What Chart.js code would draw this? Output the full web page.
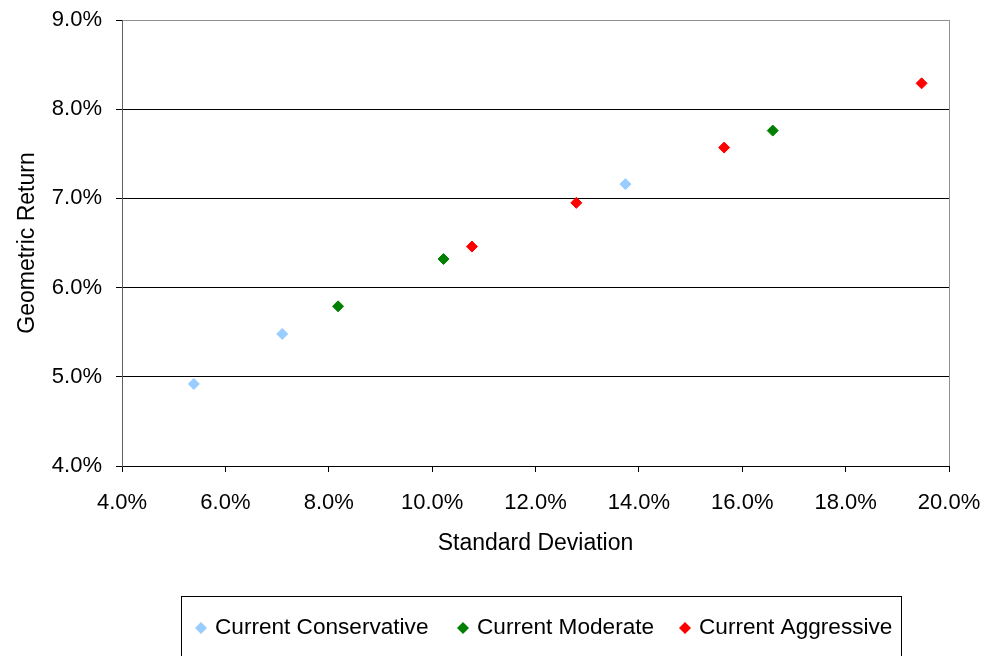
<!DOCTYPE html>
<html>
<head>
<meta charset="utf-8">
<script src="https://cdn.jsdelivr.net/npm/chart.js@4/dist/chart.umd.min.js"></script>
<style>
  html, body { margin: 0; padding: 0; background: #fff; }
  #wrap { width: 999px; height: 656px; }
</style>
</head>
<body>
<div id="wrap"><canvas id="c" width="999" height="656"></canvas></div>
<script>
// ---- Data (percent) ----
const seriesNames = ['Current Conservative', 'Current Moderate', 'Current Aggressive'];
const seriesColors = ['#99CCFF', '#008000', '#FF0000'];
const conservativeSD  = [5.39, 7.10, 13.74];
const conservativeRet = [4.92, 5.48, 7.16];
const moderateSD  = [8.18, 10.22, 16.59];
const moderateRet = [5.79, 6.32, 7.76];
const aggressiveSD  = [10.77, 12.79, 15.65, 19.47];
const aggressiveRet = [6.46, 6.95, 7.57, 8.29];
const xTitle = 'Standard Deviation';
const yTitle = 'Geometric Return';

function pts(xs, ys) { return xs.map((x, i) => ({ x: x, y: ys[i] })); }
const seriesData = [pts(conservativeSD, conservativeRet), pts(moderateSD, moderateRet), pts(aggressiveSD, aggressiveRet)];

const FONT = "'Liberation Sans', Arial, sans-serif";

const boxLegend = {
  id: 'boxLegend',
  afterDraw(chart) {
    const ctx = chart.ctx;
    ctx.save();
    ctx.strokeStyle = '#000';
    ctx.lineWidth = 1;
    ctx.strokeRect(181.5, 596.5, 720, 80);
    const diamondX = [201, 463, 685];
    const textX = [215, 477, 699];
    const cy = 628;
    ctx.font = '22.6px ' + FONT;
    ctx.textBaseline = 'middle';
    ctx.textAlign = 'left';
    chart.data.datasets.forEach((ds, i) => {
      const r = 6;
      ctx.beginPath();
      ctx.moveTo(diamondX[i], cy - r);
      ctx.lineTo(diamondX[i] + r, cy);
      ctx.lineTo(diamondX[i], cy + r);
      ctx.lineTo(diamondX[i] - r, cy);
      ctx.closePath();
      ctx.fillStyle = ds.backgroundColor;
      ctx.fill();
      ctx.fillStyle = '#000';
      ctx.fillText(ds.label, textX[i], cy);
    });
    ctx.restore();
  }
};

new Chart(document.getElementById('c'), {
  type: 'scatter',
  data: {
    datasets: seriesData.map((d, i) => ({
      label: seriesNames[i],
      data: d,
      pointStyle: 'rectRot',
      pointRadius: 5.5,
      pointBorderWidth: 1,
      backgroundColor: seriesColors[i],
      borderColor: seriesColors[i]
    }))
  },
  options: {
    responsive: false,
    animation: false,
    layout: { padding: { top: 20, right: 50, left: 0, bottom: 90 } },
    plugins: { legend: { display: false }, tooltip: { enabled: false } },
    scales: {
      x: {
        type: 'linear',
        min: 4, max: 20,
        afterFit(s) { s.height = 100; s.paddingLeft = 0; s.paddingRight = 0; },
        ticks: {
          stepSize: 2,
          padding: 18,
          color: '#000',
          font: { family: FONT, size: 22 },
          callback: v => v.toFixed(1) + '%'
        },
        grid: {
          drawOnChartArea: true,
          drawTicks: true,
          tickLength: 6,
          tickColor: '#000',
          color: c => (c.tick && c.tick.value === 20) ? '#909090' : 'rgba(0,0,0,0)'
        },
        border: { display: true, color: '#000', width: 1 },
        title: {
          display: true,
          text: xTitle,
          color: '#000',
          font: { family: FONT, size: 23 },
          padding: { top: 0, bottom: 9 }
        }
      },
      y: {
        type: 'linear',
        min: 4, max: 9,
        afterFit(s) { s.width = 122; s.paddingTop = 0; s.paddingBottom = 0; },
        ticks: {
          stepSize: 1,
          padding: 14,
          color: '#000',
          font: { family: FONT, size: 22 },
          callback: v => v.toFixed(1) + '%'
        },
        grid: {
          drawTicks: true,
          tickLength: 6,
          tickColor: '#000',
          color: c => (c.tick && c.tick.value === 9) ? '#909090' : '#000'
        },
        border: { display: true, color: '#606060', width: 1 },
        title: {
          display: true,
          text: yTitle,
          color: '#000',
          font: { family: FONT, size: 23 },
          padding: { top: 14, bottom: 0 }
        }
      }
    }
  },
  plugins: [boxLegend]
});
</script>
</body>
</html>
